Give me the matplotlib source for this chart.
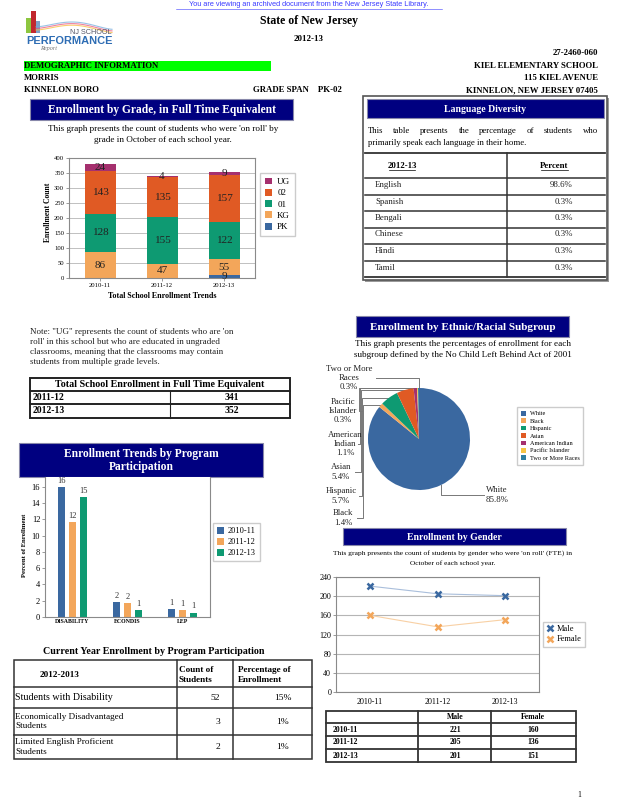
import numpy as np
import matplotlib
matplotlib.use("Agg")
import matplotlib.pyplot as plt
from matplotlib.patches import Rectangle, Patch
from matplotlib.lines import Line2D

plt.rcParams['font.family'] = ['Liberation Serif', 'DejaVu Serif']

# -----------------------------
# DATA
# -----------------------------
years = ['2010-11', '2011-12', '2012-13']
grade_names = ['PK', 'KG', '01', '02', 'UG']
pk_counts = [0, 0, 9]
kg_counts = [86, 47, 55]
g01_counts = [128, 155, 122]
g02_counts = [143, 135, 157]
ug_counts = [24, 4, 9]

languages = ['English', 'Spanish', 'Bengali', 'Chinese', 'Hindi', 'Tamil']
language_pct = [98.6, 0.3, 0.3, 0.3, 0.3, 0.3]

total_years = ['2011-12', '2012-13']
total_enrollment = [341, 352]

programs = ['DISABILITY', 'ECONDIS', 'LEP']
program_2010 = [16.0, 1.8, 1.0]
program_2011 = [11.7, 1.7, 0.85]
program_2012 = [14.8, 0.85, 0.55]

program_rows = ['Students with Disability', 'Economically Disadvantaged\nStudents',
                'Limited English Proficient\nStudents']
program_counts = [52, 3, 2]
program_pct = [15, 1, 1]

ethnic_groups = ['White', 'Black', 'Hispanic', 'Asian', 'American Indian',
                 'Pacific Islander', 'Two or More Races']
ethnic_short = ['White', 'Black', 'Hispanic', 'Asian', 'American\nIndian',
                'Pacific\nIslander', 'Two or More\nRaces']
ethnic_pct = [85.8, 1.4, 5.7, 5.4, 1.1, 0.3, 0.3]

male_counts = [221, 205, 201]
female_counts = [160, 136, 151]

# -----------------------------
# STYLE
# -----------------------------
NAVY = '#000080'
C_BLUE = '#3A68A0'
C_ORANGE = '#F3A65A'
C_GREEN = '#0E9A72'
C_RED = '#E05A24'
C_MAGENTA = '#A5306E'
C_YELLOW = '#F6C445'
C_TEAL = '#2F7EA0'
grade_colors = [C_BLUE, C_ORANGE, C_GREEN, C_RED, C_MAGENTA]
year_colors = [C_BLUE, C_ORANGE, C_GREEN]
ethnic_colors = [C_BLUE, C_ORANGE, C_GREEN, C_RED, C_MAGENTA, C_YELLOW, C_TEAL]

W, H = 618, 800
fig = plt.figure(figsize=(W / 100, H / 100), dpi=100)
page = fig.add_axes([0, 0, 1, 1])
page.set_xlim(0, W)
page.set_ylim(H, 0)
page.axis('off')
renderer = fig.canvas.get_renderer()


def px_axes(x0, y0, x1, y1):
    return fig.add_axes([x0 / W, 1 - y1 / H, (x1 - x0) / W, (y1 - y0) / H])


def text(x, y, s, size=6.5, ha='left', va='center', bold=False, color='black', **kw):
    return page.text(x, y, s, fontsize=size, ha=ha, va=va,
                     fontweight='bold' if bold else 'normal', color=color, **kw)


def line(xs, ys, lw=0.8, color='black'):
    page.plot(xs, ys, color=color, lw=lw, solid_capstyle='projecting')


def banner(x0, y0, x1, y1, s, size=8.3):
    page.add_patch(Rectangle((x0, y0), x1 - x0, y1 - y0, facecolor=NAVY,
                             edgecolor='#8888aa', lw=0.8))
    text((x0 + x1) / 2, (y0 + y1) / 2 + 0.5, s, size=size, ha='center', bold=True,
         color='white', linespacing=1.15)


def justify(s, x0, x1, y, size):
    words = s.split()
    objs = [text(x0, y, w, size=size) for w in words]
    widths = [o.get_window_extent(renderer).width for o in objs]
    gap = (x1 - x0 - sum(widths)) / (len(words) - 1)
    xpos = x0
    for o, w in zip(objs, widths):
        o.set_x(xpos)
        xpos += w + gap


def style_axes(ax):
    for sp in ax.spines.values():
        sp.set_color('#8a8a8a')
        sp.set_linewidth(0.8)
    ax.tick_params(length=2, width=0.6, color='#8a8a8a', pad=1.5)


# -----------------------------
# PAGE HEADER
# -----------------------------
text(309, 4.5, 'You are viewing an archived document from the New Jersey State Library.',
     size=5.3, ha='center', color='#3a3aff', family='Liberation Sans')
line([176, 442], [8.5, 8.5], lw=0.4, color='#3a3aff')

# logo
page.add_patch(Rectangle((26, 18), 5, 15, facecolor='#8dc63f', lw=0))
page.add_patch(Rectangle((31, 11), 5, 22, facecolor='#c1272d', lw=0))
page.add_patch(Rectangle((36, 21), 4, 12, facecolor='#7f9fc8', lw=0))
sx = np.linspace(36, 112, 40)
for k, col in enumerate(['#f7b733', '#e94e77', '#6fa8dc']):
    page.plot(sx, 30 - k * 1.6 - 6 * np.sin((sx - 36) / 76 * np.pi) ** 1.5 + 2.5 * (sx - 36) / 76,
              color=col, lw=0.8, alpha=0.7)
text(111, 32, 'NJ SCHOOL', size=5.2, ha='right', color='#555566', family='Liberation Sans')
text(26, 40.5, 'PERFORMANCE', size=7.9, bold=True, color='#2e6db4', family='Liberation Sans')
text(40, 48.5, 'Report', size=4.5, color='#777777', style='italic')

text(309, 21, 'State of New Jersey', size=8.5, ha='center', bold=True)
text(309, 39, '2012-13', size=6.5, ha='center', bold=True)
text(598, 53, '27-2460-060', size=6.3, ha='right', bold=True)
page.add_patch(Rectangle((24, 61), 247, 10, facecolor='#00ff00', lw=0))
text(24, 66.5, 'DEMOGRAPHIC INFORMATION', size=6.3, bold=True)
text(598, 66, 'KIEL ELEMENTARY SCHOOL', size=6.3, ha='right', bold=True)
text(24, 78.5, 'MORRIS', size=6.3, bold=True)
text(598, 78.5, '115 KIEL AVENUE', size=6.3, ha='right', bold=True)
text(24, 90, 'KINNELON BORO', size=6.3, bold=True)
text(253, 90, 'GRADE SPAN    PK-02', size=6.3, bold=True)
text(598, 90, 'KINNELON, NEW JERSEY 07405', size=6.3, ha='right', bold=True)

# -----------------------------
# ENROLLMENT BY GRADE
# -----------------------------
banner(30, 99, 293, 120, 'Enrollment by Grade, in Full Time Equivalent', size=8.3)
text(163, 129, "This graph presents the count of students who were 'on roll' by",
     size=6.6, ha='center')
text(163, 140, 'grade in October of each school year.', size=6.6, ha='center')

ax1 = px_axes(69, 158, 255, 278)
style_axes(ax1)
x = np.arange(len(years))
bottom = np.zeros(len(years))
grade_handles = []
for vals, name, col in zip([pk_counts, kg_counts, g01_counts, g02_counts, ug_counts],
                           grade_names, grade_colors):
    ax1.bar(x, vals, 0.5, bottom=bottom, color=col, zorder=2)
    grade_handles.append(Patch(facecolor=col, label=name))
    for xi, v, b0 in zip(x, vals, bottom):
        if v > 0:
            ax1.text(xi, b0 + v / 2, str(v), ha='center', va='center',
                     fontsize=8.1, color='#222222', zorder=3)
    bottom += vals
ax1.set_xlim(-0.5, 2.5)
ax1.set_ylim(0, 400)
ax1.set_yticks(range(0, 401, 50))
ax1.set_xticks(x, years)
ax1.tick_params(labelsize=4.8)
ax1.grid(axis='y', color='#b5b5b5', lw=0.6, zorder=0)
text(48, 212, 'Enrollment Count', size=5.5, bold=True, rotation=90, ha='center')
text(162, 296, 'Total School Enrollment Trends', size=5.8, bold=True, ha='center')
fig.legend(handles=grade_handles[::-1], loc='upper left', bbox_to_anchor=(260 / W, 1 - 173 / H),
           borderaxespad=0, fontsize=6.5, handlelength=0.8, handleheight=0.8,
           handletextpad=0.6, labelspacing=0.3, borderpad=0.5, fancybox=False,
           edgecolor='#cccccc', framealpha=1)

# -----------------------------
# LANGUAGE DIVERSITY
# -----------------------------
page.add_patch(Rectangle((365, 98), 244, 184, facecolor='#9a9a9a', lw=0))
page.add_patch(Rectangle((363, 96), 244, 184, facecolor='white', edgecolor='#555555', lw=1.2))
banner(367, 99, 604, 118, 'Language Diversity', size=7)
justify('This table presents the percentage of students who', 368, 598, 131, 6.3)
text(368, 143, 'primarily speak each language in their home.', size=6.3)
line([365, 605], [153, 153], lw=1.3, color='#333333')
line([507, 507], [153, 277], lw=1.1, color='#333333')
text(402, 166, '2012-13', size=6.3, bold=True, ha='center')
line([389, 415], [170, 170], lw=0.5)
text(554, 166, 'Percent', size=6.3, bold=True, ha='center')
line([541, 568], [170, 170], lw=0.5)
row_y = 178
for lang, pct in zip(languages, language_pct):
    line([365, 605], [row_y, row_y], lw=1.1, color='#333333')
    text(375, row_y + 7, lang, size=6.4, color='#222222')
    text(573, row_y + 7, f'{pct}%', size=6.4, ha='right', color='#222222')
    row_y += 16.5
line([365, 605], [row_y, row_y], lw=1.3, color='#333333')

# -----------------------------
# NOTE + TOTAL ENROLLMENT TABLE
# -----------------------------
text(30, 347, 'Note: "UG" represents the count of students who are \'on\n'
     "roll' in this school but who are educated in ungraded\n"
     'classrooms, meaning that the classrooms may contain\n'
     'students from multiple grade levels.', size=6.5, linespacing=1.33, color='#222222')

page.add_patch(Rectangle((30, 378), 260, 40, facecolor='none', edgecolor='#222222', lw=1.4))
line([30, 290], [391, 391], lw=1.4, color='#222222')
line([30, 290], [404, 404], lw=1.4, color='#222222')
line([170, 170], [391, 418], lw=0.8, color='#222222')
text(160, 384.5, 'Total School Enrollment in Full Time Equivalent', size=7.2, bold=True, ha='center')
for i, (yr, tot) in enumerate(zip(total_years, total_enrollment)):
    text(33, 397.5 + 13 * i, yr, size=6.9, bold=True)
    text(232, 397.5 + 13 * i, str(tot), size=6.9, bold=True, ha='center')

# -----------------------------
# PROGRAM PARTICIPATION TRENDS
# -----------------------------
banner(19, 443, 263, 477, 'Enrollment Trends by Program\nParticipation', size=8.3)
ax2 = px_axes(45, 477, 210, 617)
style_axes(ax2)
ax2.spines['top'].set_visible(False)
gx = np.arange(len(programs)) + 0.5
for k, (vals, yr, col) in enumerate(zip([program_2010, program_2011, program_2012],
                                        years, year_colors)):
    bx = gx + (k - 1) * 0.2
    ax2.bar(bx, vals, 0.12, color=col, label=yr, zorder=2)
    for xi, v in zip(bx, vals):
        ax2.text(xi, v + 0.25, str(round(v)), ha='center', va='bottom', fontsize=6, color='#333333')
ax2.set_xlim(0, 3)
ax2.set_ylim(0, 17.23)
ax2.set_yticks(range(0, 17, 2))
ax2.set_xticks(gx, programs)
ax2.tick_params(axis='y', labelsize=6)
ax2.tick_params(axis='x', labelsize=4.2, length=0)
for lab in ax2.get_xticklabels():
    lab.set_fontweight('bold')
text(25, 545, 'Percent of Enrollment', size=4.8, bold=True, rotation=90, ha='center')
h2, l2 = ax2.get_legend_handles_labels()
fig.legend(h2, l2, loc='upper left', bbox_to_anchor=(213 / W, 1 - 523 / H), borderaxespad=0,
           fontsize=6, handlelength=0.8, handleheight=0.8, handletextpad=0.5,
           labelspacing=0.35, borderpad=0.5, fancybox=False, edgecolor='#cccccc', framealpha=1)

# -----------------------------
# CURRENT YEAR PROGRAM TABLE
# -----------------------------
text(154, 652, 'Current Year Enrollment by Program Participation', size=7.2, bold=True, ha='center')
page.add_patch(Rectangle((14, 660), 298, 99, facecolor='none', edgecolor='#333333', lw=1.1))
for yy in [687, 708, 735]:
    line([14, 312], [yy, yy], lw=1.1, color='#333333')
for xx in [177, 233]:
    line([xx, xx], [660, 759], lw=1.1, color='#333333')
text(60, 675, '2012-2013', size=6.6, bold=True, ha='center')
text(179, 675, 'Count of\nStudents', size=6.6, bold=True, linespacing=1.25)
text(238, 675, 'Percentage of\nEnrollment', size=6.6, bold=True, linespacing=1.25)
row_mid = [697.5, 721.5, 747]
for lab, cnt, pct, ym in zip(program_rows, program_counts, program_pct, row_mid):
    text(15, ym, lab, size=7.2 if '\n' not in lab else 6.6, linespacing=1.3)
    text(220, ym, str(cnt), size=6.8, ha='right')
    text(283, ym, f'{pct}%', size=6.8, ha='center')

# -----------------------------
# ETHNIC / RACIAL PIE
# -----------------------------
banner(356, 316, 569, 337, 'Enrollment by Ethnic/Racial Subgroup', size=8)
text(463, 344, 'This graph presents the percentages of enrollment for each', size=6.6, ha='center')
text(463, 355, 'subgroup defined by the No Child Left Behind Act of 2001', size=6.6, ha='center')

ax3 = px_axes(368, 388, 470, 490)
wedges, _ = ax3.pie(ethnic_pct, colors=ethnic_colors, startangle=90, counterclock=False,
                    wedgeprops=dict(linewidth=0))
ax3.set_xlim(-1, 1)
ax3.set_ylim(-1, 1)

cx, cy, r = 419, 439, 51
label_pos = [(497, 495), (343, 518), (341, 496), (341, 472), (345, 444), (343, 411), (349, 378)]
trunk_x = [None, 363, 362, 361, 360, 359, None]
label_right = [None, 357, 359, 355, 358, 362, 376]
for i, (w, name, pct) in enumerate(zip(wedges, ethnic_short, ethnic_pct)):
    mid = np.deg2rad((w.theta1 + w.theta2) / 2)
    ex, ey = cx + r * np.cos(mid), cy - r * np.sin(mid)
    lx, ly = label_pos[i]
    text(lx, ly, f'{name}\n{pct}%', size=6.3, ha='center', linespacing=1.2, color='#222222')
    if i == 0:
        line([ex, ex, 484], [ey, ly, ly], lw=0.7, color='#777777')
    elif trunk_x[i] is None:
        line([ex, ex, label_right[i]], [ey, ly, ly], lw=0.7, color='#777777')
    else:
        line([ex, trunk_x[i], trunk_x[i], label_right[i]], [ey, ey, ly, ly], lw=0.7, color='#777777')

fig.legend(wedges, ethnic_groups, loc='upper left', bbox_to_anchor=(517 / W, 1 - 407 / H),
           borderaxespad=0, fontsize=4.5, handlelength=0.8, handleheight=0.8,
           handletextpad=0.6, labelspacing=0.3, borderpad=0.6, fancybox=False,
           edgecolor='#cccccc', framealpha=1)

# -----------------------------
# ENROLLMENT BY GENDER
# -----------------------------
banner(343, 528, 566, 545, 'Enrollment by Gender', size=7)
text(453, 553, "This graph presents the count of students by gender who were 'on roll' (FTE) in",
     size=5.4, ha='center')
text(453, 563, 'October of each school year.', size=5.4, ha='center')

ax4 = px_axes(336, 577, 539, 692)
style_axes(ax4)
ax4.plot(x, male_counts, color='#a9bedb', lw=0.8, zorder=2)
ax4.plot(x, female_counts, color='#f8d0a4', lw=0.8, zorder=2)
ax4.plot(x, male_counts, ls='none', marker='x', ms=4, mew=1.8, color=C_BLUE, zorder=3)
ax4.plot(x, female_counts, ls='none', marker='x', ms=4, mew=1.8, color=C_ORANGE, zorder=3)
ax4.set_xlim(-0.5, 2.5)
ax4.set_ylim(0, 240)
ax4.set_yticks(range(0, 241, 40))
ax4.set_xticks(x, years)
ax4.tick_params(labelsize=5.8)
ax4.tick_params(axis='x', length=0, pad=4)
ax4.grid(axis='y', color='#b5b5b5', lw=0.8, zorder=0)
g_handles = [Line2D([], [], ls='none', marker='x', ms=4, mew=1.8, color=C_BLUE),
             Line2D([], [], ls='none', marker='x', ms=4, mew=1.8, color=C_ORANGE)]
fig.legend(g_handles, ['Male', 'Female'], loc='upper left', bbox_to_anchor=(543 / W, 1 - 622 / H),
           borderaxespad=0, fontsize=6, handlelength=0.8, handletextpad=0.4,
           labelspacing=0.25, borderpad=0.4, fancybox=False, edgecolor='#cccccc', framealpha=1)

page.add_patch(Rectangle((326, 711), 250, 51, facecolor='none', edgecolor='#333333', lw=1.3))
for yy in [723, 736, 749]:
    line([326, 576], [yy, yy], lw=1.3, color='#333333')
for xx in [418, 491]:
    line([xx, xx], [711, 762], lw=1.3, color='#333333')
text(455, 717, 'Male', size=5.6, bold=True, ha='center')
text(533, 717, 'Female', size=5.6, bold=True, ha='center')
for i, (yr, m, f) in enumerate(zip(years, male_counts, female_counts)):
    yy = 729.5 + 13 * i
    text(333, yy, yr, size=5.6, bold=True)
    text(455, yy, str(m), size=5.6, bold=True, ha='center')
    text(533, yy, str(f), size=5.6, bold=True, ha='center')

text(579, 795, '1', size=5.5, ha='center')

fig.savefig('out.png', dpi=100)
